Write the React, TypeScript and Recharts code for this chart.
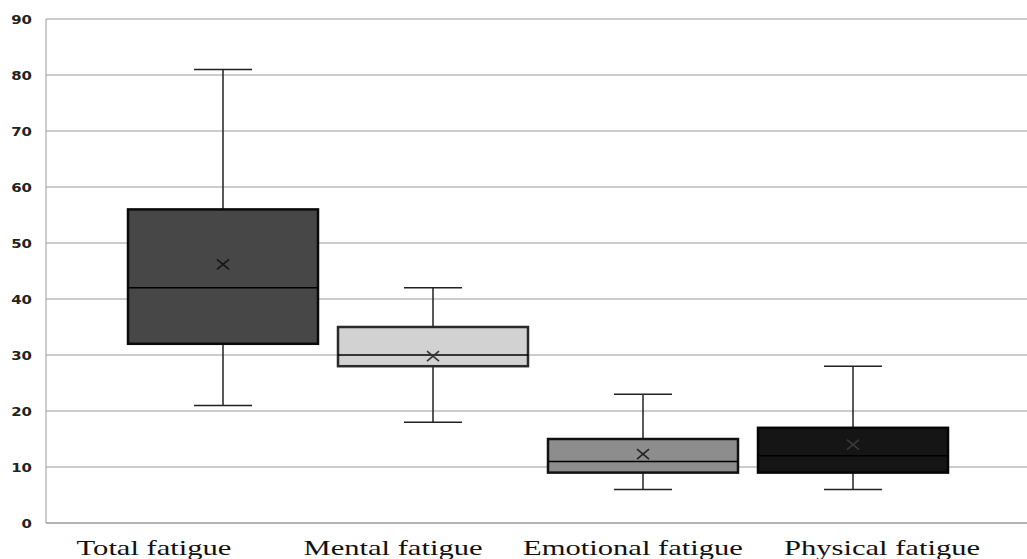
import React from "react";
import { BarChart, Bar, XAxis, YAxis, CartesianGrid } from "recharts";

const categories = ["Total fatigue", "Mental fatigue", "Emotional fatigue", "Physical fatigue"];
const minValues = [21, 18, 6, 6];
const q1Values = [32, 28, 9, 9];
const medianValues = [42, 30, 11, 12];
const q3Values = [56, 35, 15, 17];
const maxValues = [81, 42, 23, 28];
const meanValues = [46.2, 29.8, 12.3, 14];
const yTicks = [0, 10, 20, 30, 40, 50, 60, 70, 80, 90];

const boxFills = ["#474747", "#d2d2d2", "#8d8d8d", "#151515"];
const boxStrokes = ["#0a0a0a", "#2a2a2a", "#111111", "#050505"];
const meanColors = ["#151515", "#333333", "#222222", "#3a3a3a"];
const labelShift = [-69, -40, -10, 29];

const data = categories.map((name, i) => ({
  name,
  base: q1Values[i],
  span: q3Values[i] - q1Values[i],
  min: minValues[i],
  q1: q1Values[i],
  median: medianValues[i],
  q3: q3Values[i],
  max: maxValues[i],
  mean: meanValues[i],
  idx: i,
}));

const BoxShape = (props: any) => {
  const { x, y, width, height, payload } = props;
  const i = payload.idx;
  const k = height / (payload.q3 - payload.q1);
  const yOf = (v: number) => y + (payload.q3 - v) * k;
  const cx = x + width / 2;
  const cap = 29;
  const yMax = yOf(payload.max);
  const yMin = yOf(payload.min);
  const yMed = yOf(payload.median);
  const yMean = yOf(payload.mean);
  const m = 6;
  return (
    <g>
      <line x1={cx} x2={cx} y1={yMax} y2={y} stroke="#222" strokeWidth={1.5} />
      <line x1={cx} x2={cx} y1={y + height} y2={yMin} stroke="#222" strokeWidth={1.5} />
      <line x1={cx - cap} x2={cx + cap} y1={yMax} y2={yMax} stroke="#222" strokeWidth={1.5} />
      <line x1={cx - cap} x2={cx + cap} y1={yMin} y2={yMin} stroke="#222" strokeWidth={1.5} />
      <rect x={x} y={y} width={width} height={height} fill={boxFills[i]} stroke={boxStrokes[i]} strokeWidth={2.5} />
      <line x1={x} x2={x + width} y1={yMed} y2={yMed} stroke="#000" strokeWidth={1.5} />
      <line x1={cx - m} x2={cx + m} y1={yMean - m + 1} y2={yMean + m - 1} stroke={meanColors[i]} strokeWidth={1.6} />
      <line x1={cx - m} x2={cx + m} y1={yMean + m - 1} y2={yMean - m + 1} stroke={meanColors[i]} strokeWidth={1.6} />
    </g>
  );
};

const XTick = (props: any) => {
  const { x, y, payload, index } = props;
  return (
    <g transform={`translate(${x + labelShift[index]},${y})`}>
      <text
        transform="scale(1.39,1)"
        textAnchor="middle"
        dy={24}
        fontFamily="'Liberation Serif', 'Times New Roman', serif"
        fontSize={22}
        fill="#111"
      >
        {payload.value}
      </text>
    </g>
  );
};

const YTick = (props: any) => {
  const { x, y, payload } = props;
  return (
    <g transform={`translate(${x - 6},${y})`}>
      <text
        transform="scale(1.3,1)"
        textAnchor="end"
        dy={4.5}
        fontFamily="'DejaVu Sans', Verdana, sans-serif"
        fontWeight="bold"
        fontSize={11.5}
        fill="#222"
      >
        {payload.value}
      </text>
    </g>
  );
};

export default function App() {
  return (
    <div style={{ position: "absolute", left: 0, top: 0, width: 1027, height: 559, background: "#fff" }}>
      <BarChart
        width={1027}
        height={559}
        data={data}
        margin={{ top: 19, right: 0, bottom: 0, left: 0 }}
      >
        <CartesianGrid vertical={false} stroke="#9a9a9a" strokeWidth={1} />
        <XAxis
          dataKey="name"
          height={36}
          padding={{ left: 72, right: 69 }}
          axisLine={{ stroke: "#9a9a9a" }}
          tickLine={false}
          tick={<XTick />}
          interval={0}
        />
        <YAxis
          width={46}
          domain={[0, 90]}
          ticks={yTicks}
          axisLine={{ stroke: "#9a9a9a" }}
          tickLine={false}
          tick={<YTick />}
          interval={0}
        />
        <Bar dataKey="base" stackId="a" fill="none" isAnimationActive={false} barSize={190} />
        <Bar dataKey="span" stackId="a" shape={<BoxShape />} isAnimationActive={false} barSize={190} />
      </BarChart>
    </div>
  );
}
